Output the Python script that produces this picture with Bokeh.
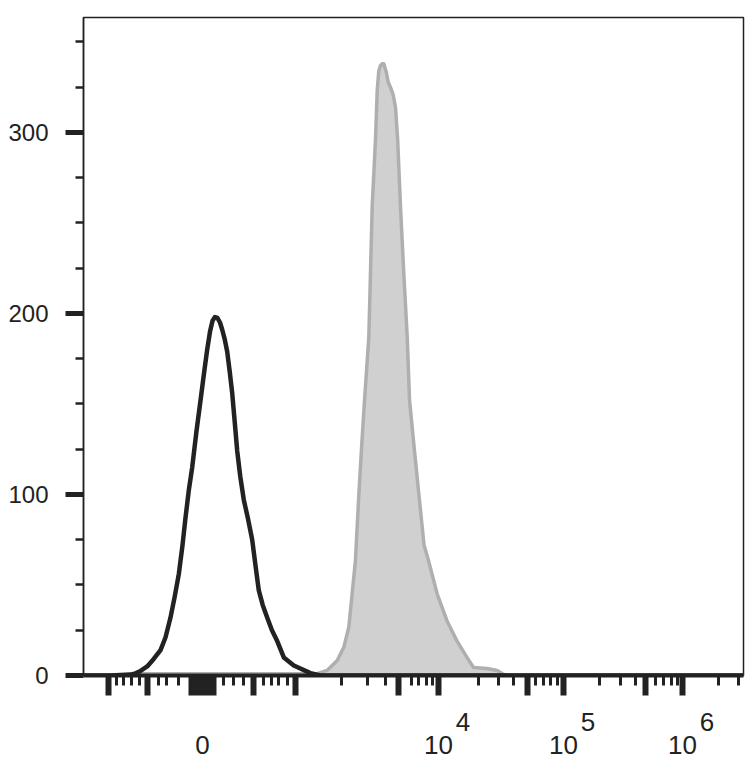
from bokeh.plotting import figure
from bokeh.models import Range1d, FixedTicker, LinearAxis
from bokeh.embed import file_html
from bokeh.resources import INLINE

# ---- data (x in display channel units 0..1000 of a biexponential axis) ----
black_x = [0, 40.9, 71.2, 78.8, 86.4, 96.5, 106.1, 116.7, 124.2, 131.8, 137.9, 144.4, 150.0,
           154.5, 159.8, 164.7, 171.2, 177.3, 182.6, 187.4, 191.7, 195.5, 199.2, 203.0, 206.8,
           210.2, 213.8, 217.7, 221.5, 225.3, 228.9, 232.9, 237.5, 242.9, 249.0, 255.6, 260.5,
           265.6, 271.5, 278.3, 285.5, 293.5, 303.5, 318.6, 343.9, 359.0, 1000]
black_y = [0, 0, 0.5, 1.2, 2.5, 5, 9, 14, 21, 32, 43, 56, 72,
           87, 103, 115, 135, 152, 167, 180, 190, 196, 198, 197.5, 195,
           191, 186, 179, 168, 156, 141, 124, 110, 97, 87, 75, 61,
           47, 39, 32, 25, 19, 10, 5.5, 1.3, 0, 0]

gray_x = [0, 78, 82, 354, 369, 384.4, 394.4, 402, 407, 412, 416.7, 421, 425.8, 432.3, 434.8,
          437.4, 442.4, 445, 447.4, 450, 453, 455, 459, 461.5, 465, 469, 472.7, 476, 480.3,
          485.3, 490.5, 494, 501.5, 509, 516, 522.7, 535.9, 551, 566, 581, 591, 611.7, 626.8,
          635, 640, 1000]
gray_y = [0, 0, 1, 1, 2.8, 8.3, 15.6, 26.7, 45, 63.5, 96.7, 124, 152, 187, 222,
          259, 296, 323, 334, 337, 338, 338, 333, 328, 325, 321, 314, 296, 259,
          222, 187, 152, 124, 97, 72, 63.5, 45, 30, 19, 10, 4.4, 3.9, 2.8,
          1, 0, 0]

# tick positions on the display scale
x_major_ticks = [37.9, 97.0,
                 163.0, 165.0, 167.0, 169.0, 171.0, 173.0, 175.0, 177.0, 180.3, 183.0, 185.0,
                 187.0, 189.0, 191.0, 193.0, 195.0, 197.0,
                 257.6, 321.2, 477.3, 537.9, 672.7, 727.3, 851.5, 907.6]
x_minor_ticks = [50.0, 60.6, 72.7, 84.8, 113.6, 125.8, 143.9, 212.1, 227.3, 242.4, 272.7,
                 284.8, 295.5, 309.1, 390.9, 430.3, 457.6, 497.0, 507.6, 519.7, 529.0,
                 598.5, 628.8, 651.5, 684.8, 697.0, 707.6, 718.2, 781.8, 813.6, 836.4,
                 866.7, 878.8, 890.9, 900.0, 962.1, 992.4]
x_label_ticks = [180.3, 537.9, 727.3, 907.6]
x_label_base = ["0", "10", "10", "10"]
x_exp_ticks = [574.9, 764.3, 944.6]
x_label_exp = ["4", "5", "6"]

y_major_ticks = [0, 100, 200, 300]
y_minor_ticks = [25, 50, 75, 125, 150, 175, 225, 250, 275, 325, 350]

ink = "#222222"
font = "Liberation Sans"

p = figure(width=748, height=773, x_range=Range1d(0, 1000), y_range=Range1d(0, 363.5),
           output_backend="svg", toolbar_location=None,
           min_border_left=83, min_border_right=5, min_border_top=17, min_border_bottom=98)
p.xgrid.visible = False
p.ygrid.visible = False
p.outline_line_color = ink
p.outline_line_width = 1.5
p.background_fill_color = "white"
p.border_fill_color = "white"

# gray filled histogram
p.varea(x=gray_x, y1=0, y2=gray_y, fill_color="#d0d0d0")
p.line(gray_x, gray_y, line_color="#afafaf", line_width=3.5, line_join="round")
# black control histogram
p.line(black_x, black_y, line_color=ink, line_width=4.5, line_join="round")

# x axis: ticks and axis line
xa = p.below[0]
xa.ticker = FixedTicker(ticks=x_major_ticks, minor_ticks=x_minor_ticks)
xa.major_label_overrides = {t: "" for t in x_major_ticks}
xa.major_label_text_font_size = "1px"
xa.major_label_standoff = 0
xa.axis_line_color = ink
xa.axis_line_width = 4
xa.major_tick_line_color = ink
xa.major_tick_line_width = 6
xa.major_tick_in = 0
xa.major_tick_out = 20
xa.minor_tick_line_color = ink
xa.minor_tick_line_width = 3
xa.minor_tick_in = 0
xa.minor_tick_out = 10

# x axis: decade exponents (raised, right of the "10")
xe = LinearAxis(ticker=FixedTicker(ticks=x_exp_ticks, minor_ticks=[]),
                major_label_overrides=dict(zip(x_exp_ticks, x_label_exp)),
                axis_line_color=None, major_tick_line_color=None, minor_tick_line_color=None,
                major_tick_in=0, major_tick_out=0, minor_tick_in=0, minor_tick_out=0,
                major_label_standoff=17, major_label_text_font=font,
                major_label_text_font_size="26px", major_label_text_color=ink)
p.add_layout(xe, "below")

# x axis: base labels
xb = LinearAxis(ticker=FixedTicker(ticks=x_label_ticks, minor_ticks=[]),
                major_label_overrides=dict(zip(x_label_ticks, x_label_base)),
                axis_line_color=None, major_tick_line_color=None, minor_tick_line_color=None,
                major_tick_in=0, major_tick_out=0, minor_tick_in=0, minor_tick_out=0,
                major_label_standoff=2, major_label_text_font=font,
                major_label_text_font_size="26px", major_label_text_color=ink)
p.add_layout(xb, "below")

# y axis
ya = p.yaxis[0]
ya.ticker = FixedTicker(ticks=y_major_ticks, minor_ticks=y_minor_ticks)
ya.axis_line_color = ink
ya.axis_line_width = 1.5
ya.major_tick_line_color = ink
ya.major_tick_line_width = 5
ya.major_tick_in = 0
ya.major_tick_out = 18
ya.minor_tick_line_color = ink
ya.minor_tick_line_width = 2.5
ya.minor_tick_in = 0
ya.minor_tick_out = 8
ya.major_label_text_font = font
ya.major_label_text_font_size = "24px"
ya.major_label_text_color = ink
ya.major_label_standoff = 17

open("out.html", "w").write(file_html(p, INLINE))
